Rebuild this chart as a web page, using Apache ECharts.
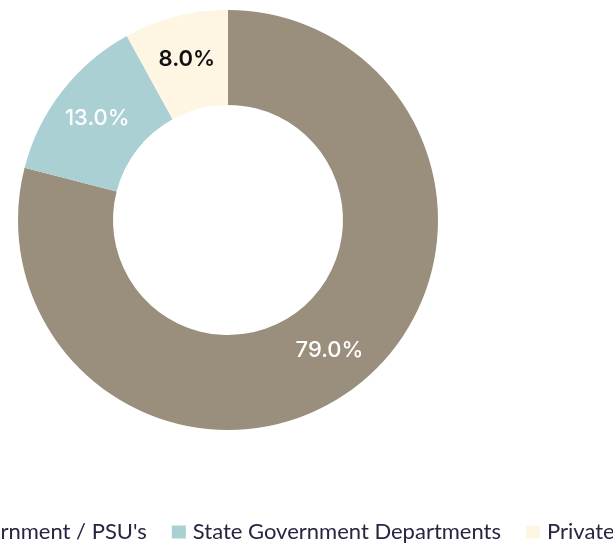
<!DOCTYPE html>
<html>
<head>
<meta charset="utf-8">
<script src="https://cdn.jsdelivr.net/npm/echarts@6/dist/echarts.min.js"></script>
<style>
  html, body { margin: 0; padding: 0; background: #fff; }
  #main { width: 613px; height: 546px; }
</style>
</head>
<body>
<div id="main"></div>
<script>
// 数据
const categories = ["Central Government / PSU's", 'State Government Departments', 'Private'];
const shares = [79.0, 13.0, 8.0];
const sliceColors = ['#9a8f7d', '#aad0d4', '#fef5e2'];
const labelColors = ['#ffffff', '#ffffff', '#111111'];

const myChart = echarts.init(document.getElementById('main'));

myChart.setOption({
  animation: false,
  legend: {
    data: categories,
    left: -147,
    top: 521,
    width: 1400,
    itemWidth: 14,
    itemHeight: 13,
    itemGap: 25,
    icon: 'rect',
    padding: 0,
    textStyle: {
      fontFamily: 'Lato',
      fontSize: 22,
      color: '#2b2340',
      padding: [0, 0, 0, 2]
    }
  },
  series: [
    {
      type: 'pie',
      center: [228, 220],
      radius: [115, 210],
      startAngle: 90,
      clockwise: true,
      avoidLabelOverlap: false,
      label: {
        show: true,
        position: 'inside',
        formatter: p => p.value.toFixed(1) + '%',
        fontFamily: 'Inter',
        fontSize: 22,
        fontWeight: 500
      },
      labelLine: { show: false },
      emphasis: { disabled: true },
      data: categories.map((name, i) => ({
        name: name,
        value: shares[i],
        itemStyle: { color: sliceColors[i] },
        label: { color: labelColors[i], fontWeight: i === 2 ? 600 : 500 }
      }))
    }
  ]
});
</script>
</body>
</html>
